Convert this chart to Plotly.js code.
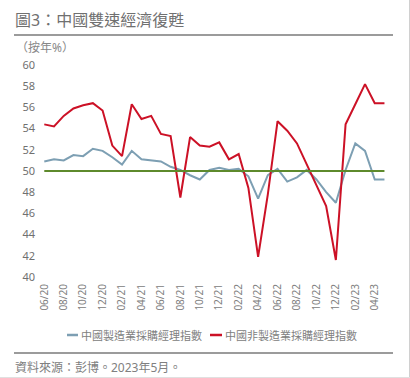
<!DOCTYPE html>
<html>
<head>
<meta charset="utf-8">
<script src="https://cdn.plot.ly/plotly-3.0.1.min.js"></script>
<style>
html,body{margin:0;padding:0;background:#fff;}
#chart{width:410px;height:378px;}
</style>
</head>
<body>
<div id="chart"></div>
<script>
const months = ["06/20","07/20","08/20","09/20","10/20","11/20","12/20",
  "01/21","02/21","03/21","04/21","05/21","06/21","07/21","08/21","09/21","10/21","11/21","12/21",
  "01/22","02/22","03/22","04/22","05/22","06/22","07/22","08/22","09/22","10/22","11/22","12/22",
  "01/23","02/23","03/23","04/23","05/23"];
const manufacturing = [50.9,51.1,51.0,51.5,51.4,52.1,51.9,
  51.3,50.6,51.9,51.1,51.0,50.9,50.4,50.1,49.6,49.2,50.1,50.3,
  50.1,50.2,49.5,47.4,49.6,50.2,49.0,49.4,50.1,49.2,48.0,47.0,
  50.1,52.6,51.9,49.2,49.2];
const nonManufacturing = [54.4,54.2,55.2,55.9,56.2,56.4,55.7,
  52.4,51.4,56.3,54.9,55.2,53.5,53.3,47.5,53.2,52.4,52.3,52.7,
  51.1,51.6,48.4,41.9,47.8,54.7,53.8,52.6,50.6,48.7,46.7,41.6,
  54.4,56.3,58.2,56.4,56.4];
const tickLabels = months.filter((m, i) => i % 2 === 0);
const seriesNames = ["中國製造業採購經理指數", "中國非製造業採購經理指數"];
const threshold = 50;

const colBlue = "#7d9fb3";
const colRed = "#cc1126";
const colGreen = "#5e8a2c";
const font = "'Noto Sans', 'Noto Sans CJK TC', sans-serif";

const traces = [
  {x: months, y: manufacturing, type: "scatter", mode: "lines", name: seriesNames[0],
   line: {color: colBlue, width: 2}, showlegend: false, hoverinfo: "skip"},
  {x: months, y: nonManufacturing, type: "scatter", mode: "lines", name: seriesNames[1],
   line: {color: colRed, width: 2}, showlegend: false, hoverinfo: "skip"}
];

// plot area: left 40, right 390, top 65, bottom 277
const L = 40, W = 350, B = 277, H = 212;
const px = v => (v - L) / W;
const py = v => (B - v) / H;

const layout = {
  width: 410, height: 378,
  margin: {l: L, r: 410 - L - W, t: 65, b: 378 - B},
  paper_bgcolor: "#fff", plot_bgcolor: "#fff",
  font: {family: font, color: "#666"},
  title: {text: "圖3：中國雙速經濟復甦", x: 15/410, xref: "container", xanchor: "left",
          y: 1 - 20/378, yref: "container", yanchor: "middle",
          font: {family: font, size: 16, color: "#707070"}},
  xaxis: {type: "category", range: [-0.44, 35.57], tickvals: tickLabels, ticktext: tickLabels,
          tickangle: -90, tickfont: {size: 10, color: "#808080"}, showgrid: false, zeroline: false,
          showline: false, ticks: "", ticklabelstandoff: 4, fixedrange: true},
  yaxis: {range: [40, 60], dtick: 2, tick0: 40, showgrid: false, zeroline: false, showline: false,
          ticks: "", tickfont: {size: 11, color: "#707070"}, ticklabelstandoff: 4, fixedrange: true},
  shapes: [
    {type: "line", xref: "x", yref: "y", x0: months[0], x1: months[months.length-1], y0: threshold, y1: threshold,
     line: {color: colGreen, width: 2}},
    {type: "line", xref: "paper", yref: "paper", x0: px(14), x1: px(393), y0: py(35), y1: py(35),
     line: {color: "#7a7a7a", width: 1.5}},
    {type: "line", xref: "paper", yref: "paper", x0: px(14), x1: px(393), y0: py(353), y1: py(353),
     line: {color: "#7a7a7a", width: 1.5}},
    {type: "line", xref: "paper", yref: "paper", x0: px(409.5), x1: px(409.5), y0: py(0), y1: py(378),
     line: {color: "#d0d0d0", width: 1}},
    {type: "line", xref: "paper", yref: "paper", x0: px(0), x1: px(410), y0: py(377.5), y1: py(377.5),
     line: {color: "#e0e0e0", width: 1}},
    {type: "line", xref: "paper", yref: "paper", x0: px(67), x1: px(78), y0: py(335), y1: py(335),
     line: {color: colBlue, width: 2.5}},
    {type: "line", xref: "paper", yref: "paper", x0: px(210), x1: px(222), y0: py(335), y1: py(335),
     line: {color: colRed, width: 2.5}}
  ],
  annotations: [
    {text: "（按年%）", xref: "paper", yref: "paper", x: px(14), y: py(48), xanchor: "left", yanchor: "middle",
     showarrow: false, font: {size: 12, color: "#888", family: font}},
    {text: seriesNames[0], xref: "paper", yref: "paper", x: px(79), y: py(335), xanchor: "left", yanchor: "middle",
     showarrow: false, font: {size: 11, color: "#808080", family: font}},
    {text: seriesNames[1], xref: "paper", yref: "paper", x: px(223), y: py(335), xanchor: "left", yanchor: "middle",
     showarrow: false, font: {size: 11, color: "#808080", family: font}},
    {text: "資料來源：彭博。2023年5月。", xref: "paper", yref: "paper", x: px(13), y: py(367), xanchor: "left", yanchor: "middle",
     showarrow: false, font: {size: 12, color: "#808080", family: font}}
  ]
};

Plotly.newPlot("chart", traces, layout, {staticPlot: true, displayModeBar: false});
</script>
</body>
</html>
